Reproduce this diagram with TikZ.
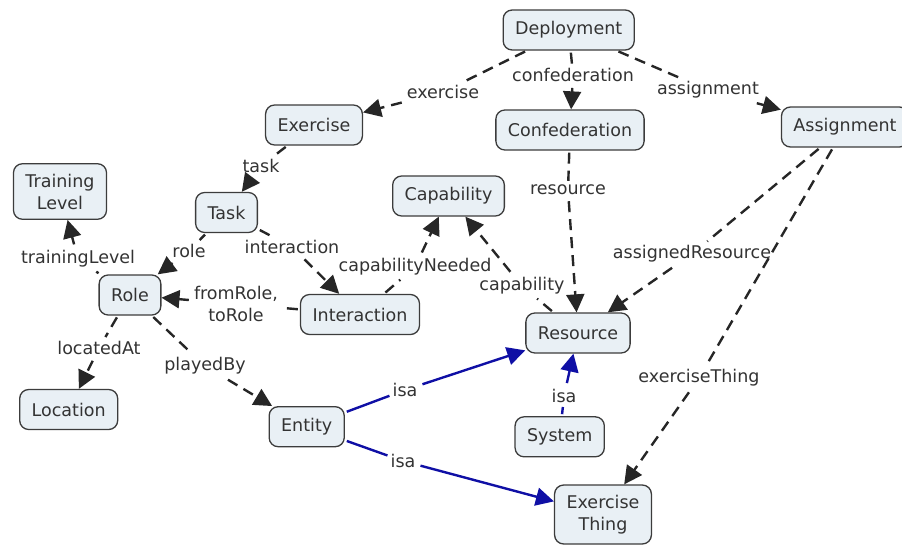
\documentclass[tikz,border=0pt]{standalone}
\usepackage{fontspec}
\setmainfont{DejaVu Sans}
\usetikzlibrary{arrows.meta}

\definecolor{conceptfill}{RGB}{233,240,245}
\definecolor{conceptline}{RGB}{60,60,60}
\definecolor{isablue}{RGB}{15,15,165}

\begin{document}
\begin{tikzpicture}[x=1pt, y=-1pt,
    every node/.style={font=\fontsize{17.5}{22}\selectfont},
    concept/.style={draw=conceptline, line width=1.3pt, fill=conceptfill,
        rounded corners=9pt, inner xsep=12pt, inner ysep=10pt,
        minimum height=40pt, align=center, text=black!80},
    phrase/.style={fill=white, inner xsep=3pt, inner ysep=4pt, align=center, text=black!80},
    link/.style={line width=2.4pt, dash pattern=on 11pt off 7pt, black!85, shorten <=2pt},
    isalink/.style={line width=2.4pt, isablue, shorten <=2pt},
    tip/.style={-{Triangle[length=18pt, width=18pt]}}]

    % Fix the page to the picture size
    \useasboundingbox (0,0) rectangle (902,546);

    % Concepts
    \node[concept] (dep)     at (568.7,30)   {Deployment};
    \node[concept] (conf)    at (570,130)    {Confederation};
    \node[concept] (assign)  at (845,127)    {Assignment};
    \node[concept] (exer)    at (314,125)    {Exercise};
    \node[concept] (train)   at (60,191.5)   {Training\\Level};
    \node[concept] (task)    at (226.5,212.5){Task};
    \node[concept] (capab)   at (448.5,196)  {Capability};
    \node[concept] (role)    at (130,295)    {Role};
    \node[concept] (inter)   at (360,314.5)  {Interaction};
    \node[concept] (res)     at (578,333)    {Resource};
    \node[concept] (loc)     at (68.7,409.5) {Location};
    \node[concept] (entity)  at (306.7,426.7){Entity};
    \node[concept] (sys)     at (559.7,436.8){System};
    \node[concept] (exthing) at (603,514.5)  {Exercise\\Thing};

    % Linking phrases
    \node[phrase] (lexercise) at (443,92)  {exercise};
    \node[phrase] (lconf)     at (573,75)  {confederation};
    \node[phrase] (lassign)   at (708,90)  {assignment};
    \node[phrase] (ltask)     at (261,166) {task};
    \node[phrase] (lres)      at (568,190) {resource};
    \node[phrase] (lrole)     at (189,251) {role};
    \node[phrase] (linter)    at (292,247) {interaction};
    \node[phrase] (lcapneed)  at (415,267) {capabilityNeeded};
    \node[phrase] (lcap)      at (522,286) {capability};
    \node[phrase] (ltrain)    at (78,259)  {trainingLevel};
    \node[phrase] (lassres)   at (692,254) {assignedResource};
    \node[phrase] (lfromto)   at (236,304) {fromRole,\\toRole};
    \node[phrase] (llocated)  at (99,348)  {locatedAt};
    \node[phrase] (lplayed)   at (205,366) {playedBy};
    \node[phrase] (lexthing)  at (699,378) {exerciseThing};
    \node[phrase] (lisaA)     at (405,390) {isa};
    \node[phrase] (lisaB)     at (564,396) {isa};
    \node[phrase] (lisaC)     at (403,461) {isa};

    % Dashed relations: concept -- phrase -> concept
    \foreach \from/\via/\to in {dep/lexercise/exer, dep/lconf/conf,
        dep/lassign/assign, exer/ltask/task, conf/lres/res,
        task/lrole/role, task/linter/inter, inter/lcapneed/capab,
        res/lcap/capab, role/ltrain/train, assign/lassres/res,
        inter/lfromto/role, role/llocated/loc, role/lplayed/entity,
        assign/lexthing/exthing} {
        \draw[link] (\from) -- (\via);
        \draw[link, tip] (\via) -- (\to);
    }

    % isa relations (solid blue)
    \foreach \from/\via/\to in {entity/lisaA/res, sys/lisaB/res,
        entity/lisaC/exthing} {
        \draw[isalink] (\from) -- (\via);
        \draw[isalink, tip] (\via) -- (\to);
    }
\end{tikzpicture}
\end{document}
